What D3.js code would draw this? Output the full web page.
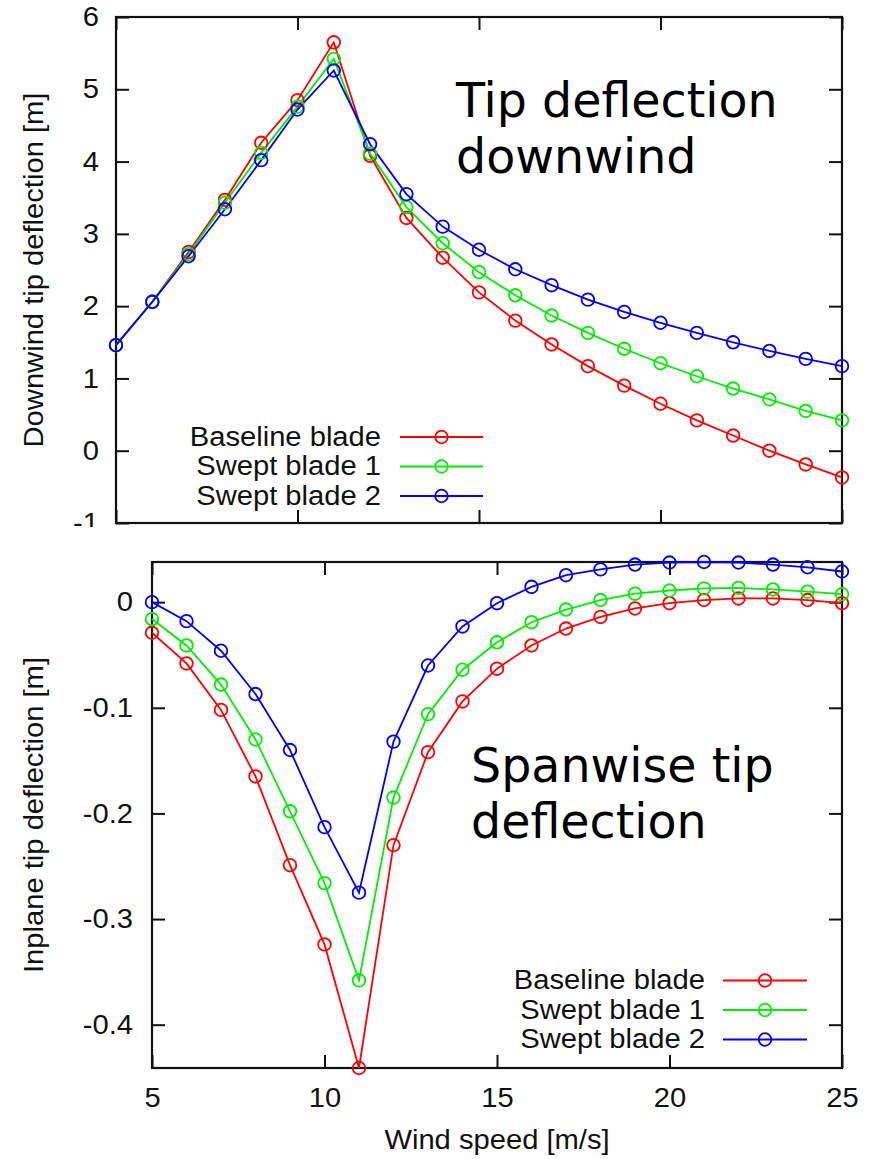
<!DOCTYPE html>
<html><head><meta charset="utf-8">
<script src="https://cdn.jsdelivr.net/npm/d3@7"></script>
<style>body{margin:0;background:#fff}svg{display:block}</style>
</head><body>
<script>
const windSpeed = [5,6,7,8,9,10,11,12,13,14,15,16,17,18,19,20,21,22,23,24,25];
const seriesNames = ["Baseline blade","Swept blade 1","Swept blade 2"];
const seriesColors = ["#ff0000","#00ee00","#0000ff"];
const downBaseline = [1.46,2.06,2.75,3.47,4.26,4.85,5.65,4.08,3.22,2.67,2.19,1.80,1.47,1.17,0.90,0.65,0.42,0.21,0.00,-0.19,-0.37];
const downSwept1   = [1.46,2.06,2.72,3.43,4.12,4.76,5.42,4.11,3.37,2.87,2.47,2.15,1.87,1.63,1.41,1.21,1.03,0.86,0.71,0.55,0.42];
const downSwept2   = [1.46,2.06,2.69,3.34,4.02,4.72,5.26,4.24,3.55,3.10,2.78,2.51,2.29,2.09,1.92,1.77,1.63,1.50,1.38,1.27,1.17];
const inBaseline = [-0.029,-0.058,-0.102,-0.165,-0.249,-0.324,-0.441,-0.230,-0.142,-0.094,-0.063,-0.041,-0.025,-0.014,-0.006,-0.001,0.002,0.0035,0.0035,0.002,-0.001];
const inSwept1   = [-0.016,-0.041,-0.078,-0.130,-0.198,-0.266,-0.358,-0.185,-0.106,-0.064,-0.038,-0.019,-0.007,0.002,0.008,0.011,0.013,0.0135,0.012,0.010,0.0076];
const inSwept2   = [0.000,-0.018,-0.046,-0.087,-0.140,-0.213,-0.275,-0.132,-0.060,-0.023,-0.001,0.0145,0.0255,0.031,0.0356,0.0375,0.038,0.0375,0.0356,0.033,0.029];
const xTicks = [5,10,15,20,25];
const topYTicks = [-1,0,1,2,3,4,5,6];
const topYLabels = ["-1","0","1","2","3","4","5","6"];
const botYTicks = [0,-0.1,-0.2,-0.3,-0.4];
const botYLabels = ["0","-0.1","-0.2","-0.3","-0.4"];
const xLabels = ["5","10","15","20","25"];

const W = 879, H = 1159;
const FONT = "'Liberation Sans', Arial, sans-serif";
const FS = 27, SX = 1.08;
const svg = d3.select("body").append("svg").attr("width",W).attr("height",H)
  .style("font-family",FONT);
svg.append("rect").attr("width",W).attr("height",H).attr("fill","#fff");

function stretchedText(parent, x, y, txt, anchor, rot){
  return parent.append("text")
    .attr("transform",`translate(${x},${y})${rot?` rotate(${rot})`:""} scale(${SX},1)`)
    .attr("text-anchor",anchor).style("font-size",FS+"px").attr("fill","#111").text(txt);
}

function panel(cfg){
  const g = svg.append("g");
  if (cfg.bg) g.append("rect").attr("x",0).attr("y",cfg.bg).attr("width",W).attr("height",H-cfg.bg).attr("fill","#fff");
  const x = d3.scaleLinear().domain([5,25]).range([cfg.left,cfg.right]);
  const y = d3.scaleLinear().domain(cfg.ydom).range([cfg.bottom,cfg.top]);
  const tickLen = 13;
  const yFmt = d => cfg.yLabels[cfg.yTicks.indexOf(d)];
  // left axis
  const la = g.append("g").attr("transform",`translate(${cfg.left},0)`)
    .call(d3.axisLeft(y).tickValues(cfg.yTicks).tickSize(-tickLen).tickPadding(cfg.yPad).tickFormat(yFmt));
  la.select(".domain").remove();
  la.selectAll("text").style("font-size",FS+"px").style("font-family",FONT).attr("fill","#111")
    .attr("x",-cfg.yPad/SX).attr("transform",`scale(${SX},1)`);
  la.selectAll("line").attr("stroke","#111").attr("stroke-width",2);
  // right ticks
  const ra = g.append("g").attr("transform",`translate(${cfg.right},0)`)
    .call(d3.axisRight(y).tickValues(cfg.yTicks).tickSize(-tickLen).tickFormat(""));
  ra.select(".domain").remove();
  ra.selectAll("line").attr("stroke","#111").attr("stroke-width",2);
  // bottom axis
  const ba = g.append("g").attr("transform",`translate(0,${cfg.bottom})`)
    .call(d3.axisBottom(x).tickValues(xTicks).tickSize(-tickLen).tickPadding(20)
      .tickFormat(cfg.xLabels ? (d => xLabels[xTicks.indexOf(d)]) : ""));
  ba.select(".domain").remove();
  ba.selectAll("text").style("font-size",FS+"px").style("font-family",FONT).attr("fill","#111")
    .attr("transform",`scale(${SX},1)`);
  ba.selectAll("line").attr("stroke","#111").attr("stroke-width",2);
  // top ticks
  const ta = g.append("g").attr("transform",`translate(0,${cfg.top})`)
    .call(d3.axisTop(x).tickValues(xTicks).tickSize(-tickLen).tickFormat(""));
  ta.select(".domain").remove();
  ta.selectAll("line").attr("stroke","#111").attr("stroke-width",2);
  // frame
  g.append("rect").attr("x",cfg.left).attr("y",cfg.top)
    .attr("width",cfg.right-cfg.left).attr("height",cfg.bottom-cfg.top)
    .attr("fill","none").attr("stroke","#111").attr("stroke-width",2.2);
  // series
  const line = d3.line().x((d,i)=>x(windSpeed[i])).y(d=>y(d));
  cfg.series.forEach((s,k)=>{
    g.append("path").datum(s).attr("d",line).attr("fill","none")
      .attr("stroke",seriesColors[k]).attr("stroke-width",1.8);
  });
  cfg.series.forEach((s,k)=>{
    g.selectAll(null).data(s).enter().append("circle")
      .attr("cx",(d,i)=>x(windSpeed[i])).attr("cy",d=>y(d)).attr("r",6.3)
      .attr("fill","none").attr("stroke",seriesColors[k]).attr("stroke-width",1.8);
  });
  // legend
  seriesNames.forEach((n,k)=>{
    const by = cfg.legY + k*29.5;
    stretchedText(g, cfg.legTextX, by, n, "end");
    g.append("line").attr("x1",cfg.legX1).attr("x2",cfg.legX2).attr("y1",by-8.5).attr("y2",by-8.5)
      .attr("stroke",seriesColors[k]).attr("stroke-width",1.8);
    g.append("circle").attr("cx",(cfg.legX1+cfg.legX2)/2).attr("cy",by-8.5).attr("r",6.3)
      .attr("fill","none").attr("stroke",seriesColors[k]).attr("stroke-width",1.8);
  });
  // y label
  stretchedText(g, 43, (cfg.top+cfg.bottom)/2, cfg.ylabel, "middle", -90);
  // title
  cfg.title.forEach((t,i)=>{
    g.append("text").attr("x",cfg.titleX).attr("y",cfg.titleY+i*56)
      .style("font-family","'DejaVu Sans', Verdana, sans-serif").style("font-size","47.5px")
      .attr("fill","#000").text(t);
  });
  return {x,y,g};
}

panel({left:116,right:842,top:17,bottom:523,ydom:[-1,6],yTicks:topYTicks,yLabels:topYLabels,yPad:17,xLabels:false,
  series:[downBaseline,downSwept1,downSwept2],
  legY:445.5,legTextX:381,legX1:400,legX2:483,
  ylabel:"Downwind tip deflection [m]",
  title:["Tip deflection","downwind"],titleX:456,titleY:117});

const bot = panel({bg:527,left:152,right:842,top:562,bottom:1068,ydom:[-0.441,0.038],yTicks:botYTicks,yLabels:botYLabels,yPad:19,xLabels:true,
  series:[inBaseline,inSwept1,inSwept2],
  legY:989,legTextX:705,legX1:723,legX2:807,
  ylabel:"Inplane tip deflection [m]",
  title:["Spanwise tip","deflection"],titleX:471,titleY:782});

stretchedText(bot.g, 497, 1149, "Wind speed [m/s]", "middle");
</script>
</body></html>
